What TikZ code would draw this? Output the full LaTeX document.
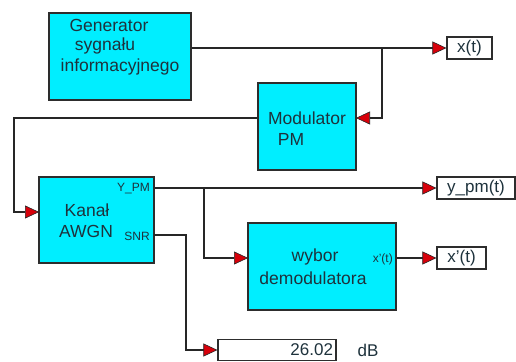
\documentclass[tikz,border=0pt]{standalone}
\usepackage{fontspec}
\setmainfont{Liberation Sans}
\usetikzlibrary{arrows.meta,calc}
\definecolor{boxcyan}{RGB}{0,238,255}
\definecolor{edgegray}{RGB}{45,45,45}
\definecolor{txtcol}{RGB}{30,50,60}
\definecolor{tipred}{RGB}{215,0,10}
\tikzset{
  blockbox/.style={draw=edgegray,line width=1.5pt,fill=boxcyan,inner sep=0pt,minimum height=87pt},
  outbox/.style={draw=edgegray,line width=1.2pt,fill=white,inner sep=0pt,minimum height=22pt,text=txtcol,font=\fontsize{17}{20}\selectfont},
  bigtxt/.style={inner sep=0pt,text=txtcol,font=\fontsize{17.5}{20}\selectfont},
  porttxt/.style={inner sep=0pt,text=txtcol,font=\fontsize{12}{14}\selectfont},
  wire/.style={draw=black!85,line width=1.2pt},
  sig/.style={wire,-{Triangle[length=14pt,width=13pt,fill=tipred,line width=0.6pt]}}
}
\begin{document}
\begin{tikzpicture}[x=1pt,y=-1pt]
\useasboundingbox (0,0) rectangle (516,361);
% blocks
\node[blockbox,minimum width=142pt] (gen) at (120,56.5) {};
\node[blockbox,minimum width=98pt] (mod) at (307,126.5) {};
\node[blockbox,minimum width=115pt,minimum height=86pt] (kan) at (96.5,220) {};
\node[blockbox,minimum width=148pt] (wyb) at (322,266.5) {};
% output boxes
\node[outbox,minimum width=45pt] (xt) at (469.5,48) {x(t)};
\node[outbox,minimum width=78pt] (ypm) at (476,188) {y\_pm(t)};
\node[outbox,minimum width=49pt] (xpt) at (461.5,258) {x'(t)};
\node[outbox,minimum width=118pt,minimum height=21pt,text width=112pt,align=right] (snr) at (277,350) {26.02};
\node[bigtxt,font=\fontsize{17}{20}\selectfont] (db) at (368,350) {dB};
% block texts
\node[bigtxt] (g1) at (109,25) {Generator};
\node[bigtxt] (g2) at (105,46) {sygnału};
\node[bigtxt] (g3) at (120,67) {informacyjnego};
\node[bigtxt] (m1) at (307,118) {Modulator};
\node[bigtxt] (m2) at (291,139) {PM};
\node[bigtxt] (k1) at (87,210) {Kanał};
\node[bigtxt] (k2) at (86,231) {AWGN};
\node[porttxt,anchor=east] (kp1) at (150,189) {Y\_PM};
\node[porttxt,anchor=east] (kp2) at (150,236) {SNR};
\node[bigtxt] (w1) at (315,257) {wybor};
\node[bigtxt] (w2) at (313,278) {demodulatora};
\node[porttxt,anchor=east] (wp) at (393,259) {x'(t)};
% ports and bends
\coordinate (modin) at (356,118);
\coordinate (b1) at (382,48);
\coordinate (c1) at (14,118);
\coordinate (kanin) at (39,212);
\coordinate (b2) at (204,188);
\coordinate (wybin) at (248,258);
\coordinate (snrout) at (154,235);
\coordinate (c2) at (186,235);
% connectors
\draw[sig] (gen.east |- xt.west) -- (xt.west);
\draw[sig] (b1) |- (modin);
\draw[sig] (mod.west |- modin) -- (c1) |- (kanin);
\draw[sig] (kan.east |- ypm.west) -- (ypm.west);
\draw[sig] (b2) |- (wybin);
\draw[sig] (wyb.east |- xpt.west) -- (xpt.west);
\draw[sig] (snrout) -- (c2) |- (snr.west);
\end{tikzpicture}
\end{document}
